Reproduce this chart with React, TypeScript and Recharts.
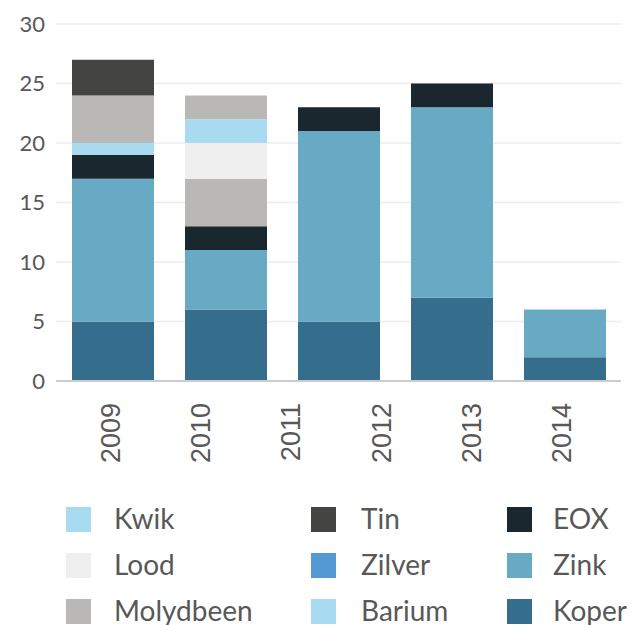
import { BarChart, LineChart, Bar, XAxis, YAxis, CartesianGrid } from "recharts";

// five bars, but the axis below carries six year labels spread over them
const bars = ["b1", "b2", "b3", "b4", "b5"];
const years = ["2009", "2010", "2011", "2012", "2013", "2014"];
const yTicks = [0, 5, 10, 15, 20, 25, 30];

const koper = [5, 6, 5, 7, 2];
const zink = [12, 5, 16, 16, 4];
const eox = [2, 2, 2, 2, 0];
const barium = [1, 0, 0, 0, 0];
const molydbeen = [4, 4, 0, 0, 0];
const lood = [0, 3, 0, 0, 0];
const kwik = [0, 2, 0, 0, 0];
const molydbeenTop = [0, 2, 0, 0, 0];
const zilver = [0, 0, 0, 0, 0];
const tin = [3, 0, 0, 0, 0];

const COLORS: Record<string, string> = {
  Koper: "#356e8c",
  Zink: "#68a9c4",
  EOX: "#1a272e",
  Barium: "#a8dbf0",
  Molydbeen: "#b9b8b7",
  Lood: "#efefef",
  Kwik: "#a8dbf0",
  Zilver: "#5599d4",
  Tin: "#444443",
};

// legend columns, top to bottom
const legendCols = [
  ["Kwik", "Lood", "Molydbeen"],
  ["Tin", "Zilver", "Barium"],
  ["EOX", "Zink", "Koper"],
];

const data = bars.map((name, i) => ({
  name,
  Koper: koper[i],
  Zink: zink[i],
  EOX: eox[i],
  Barium: barium[i],
  Molydbeen: molydbeen[i],
  Lood: lood[i],
  Kwik: kwik[i],
  MolydbeenTop: molydbeenTop[i],
  Zilver: zilver[i],
  Tin: tin[i],
}));

const yearData = years.map((year) => ({ year }));

const stackOrder: [string, string][] = [
  ["Koper", COLORS.Koper],
  ["Zink", COLORS.Zink],
  ["EOX", COLORS.EOX],
  ["Barium", COLORS.Barium],
  ["Molydbeen", COLORS.Molydbeen],
  ["Lood", COLORS.Lood],
  ["Kwik", COLORS.Kwik],
  ["MolydbeenTop", COLORS.Molydbeen],
  ["Zilver", COLORS.Zilver],
  ["Tin", COLORS.Tin],
];

const TEXT = "#585858";
const W = 634;
const H = 480;
const MARGIN = { top: 24, right: 13, left: 0, bottom: 99 };

function YearTick({ x, y, payload }: any) {
  return (
    <text
      x={x}
      y={y}
      transform={`rotate(-90 ${x} ${y})`}
      textAnchor="end"
      dominantBaseline="central"
      fill={TEXT}
      fontSize={27}
      fontFamily="'Liberation Sans', Arial, sans-serif"
    >
      {payload.value}
    </text>
  );
}

export default function App() {
  const swatchX = [66, 311, 507];
  const textX = [114, 361, 553];
  const rowY = [507, 553, 599];

  return (
    <div style={{ position: "absolute", left: 0, top: 0, width: W, height: 625 }}>
      <BarChart width={W} height={H} data={data} margin={MARGIN}>
        <CartesianGrid vertical={false} stroke="#ececec" strokeWidth={1.5} />
        <XAxis dataKey="name" hide />
        <YAxis
          domain={[0, 30]}
          ticks={yTicks}
          width={56}
          tickLine={false}
          axisLine={false}
          tickMargin={5}
          tick={{ fontSize: 22, fill: TEXT, fontFamily: "Lato, sans-serif" }}
        />
        {stackOrder.map(([key, color]) => (
          <Bar
            key={key}
            dataKey={key}
            stackId="a"
            fill={color}
            barSize={82}
            isAnimationActive={false}
          />
        ))}
      </BarChart>
      <div style={{ position: "absolute", left: 0, top: 0 }}>
        <LineChart
          width={W}
          height={H}
          data={yearData}
          margin={{ top: 24, right: 13, left: 56, bottom: 0 }}
        >
          <XAxis
            dataKey="year"
            scale="point"
            padding={{ left: 55, right: 59 }}
            height={99}
            tickLine={false}
            tickMargin={16}
            axisLine={{ stroke: "#cccccc", strokeWidth: 2 }}
            tick={<YearTick />}
            interval={0}
          />
          <YAxis hide domain={[0, 30]} />
        </LineChart>
      </div>
      {legendCols.map((col, ci) =>
        col.map((name, ri) => (
          <div key={name}>
            <span
              style={{
                position: "absolute",
                left: swatchX[ci],
                top: rowY[ri],
                width: 25,
                height: 25,
                background: COLORS[name],
              }}
            />
            <span
              style={{
                position: "absolute",
                left: textX[ci],
                top: rowY[ri] - 3,
                fontFamily: "Lato, sans-serif",
                fontSize: 28,
                lineHeight: "28px",
                color: TEXT,
                whiteSpace: "nowrap",
              }}
            >
              {name}
            </span>
          </div>
        ))
      )}
    </div>
  );
}
